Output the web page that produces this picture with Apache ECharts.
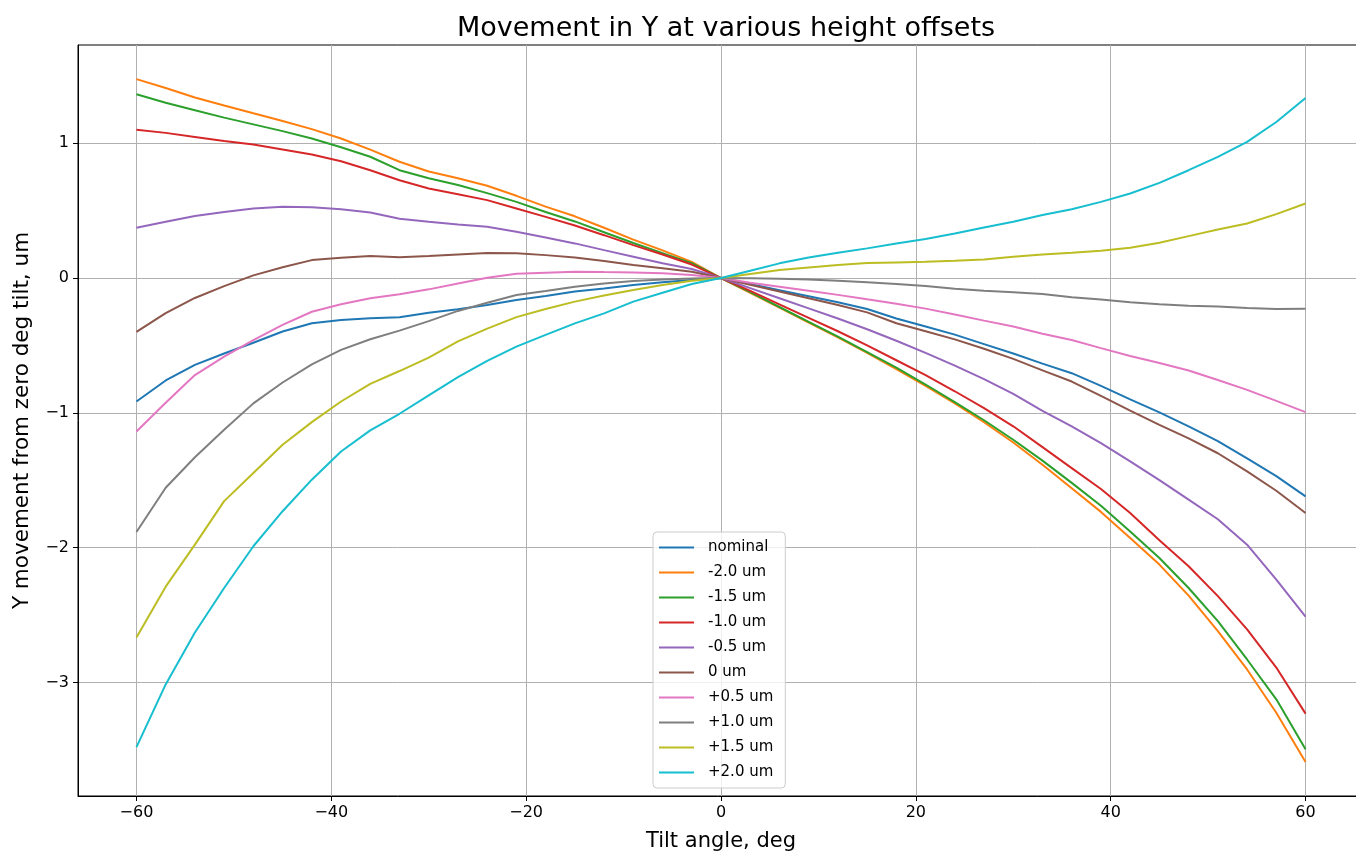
<!DOCTYPE html>
<html>
<head>
<meta charset="utf-8">
<script src="https://cdn.jsdelivr.net/npm/echarts@6/dist/echarts.min.js"></script>
<style>
html,body{margin:0;padding:0;background:#fff;overflow:hidden;}
#chart{width:1356px;height:852px;}
</style>
</head>
<body>
<div id="chart"></div>
<script>
const titleText = 'Movement in Y at various height offsets';
const xAxisName = 'Tilt angle, deg';
const yAxisName = 'Y movement from zero deg tilt, um';

const angles = [-60,-57,-54,-51,-48,-45,-42,-39,-36,-33,-30,-27,-24,-21,-18,-15,-12,-9,-6,-3,0,
  3,6,9,12,15,18,21,24,27,30,33,36,39,42,45,48,51,54,57,60];

const xTicks = [-60,-40,-20,0,20,40,60];
const yTicks = [-3,-2,-1,0,1];

const seriesNames = ['nominal','-2.0 um','-1.5 um','-1.0 um','-0.5 um','0 um','+0.5 um','+1.0 um','+1.5 um','+2.0 um'];
const seriesColors = ['#1f77b4','#ff7f0e','#2ca02c','#d62728','#9467bd','#8c564b','#e377c2','#7f7f7f','#bcbd22','#17becf'];

const nominal = [-0.916,-0.76,-0.644,-0.56,-0.48,-0.397,-0.336,-0.311,-0.299,-0.291,-0.257,-0.232,-0.2,-0.163,-0.133,-0.1,-0.077,-0.052,-0.032,-0.015,0,
  -0.045,-0.09,-0.135,-0.18,-0.23,-0.3,-0.36,-0.42,-0.49,-0.56,-0.635,-0.706,-0.8,-0.9,-0.997,-1.1,-1.21,-1.338,-1.47,-1.62];
const m20 = [1.476,1.41,1.34,1.28,1.222,1.165,1.105,1.035,0.953,0.863,0.79,0.74,0.685,0.61,0.53,0.458,0.373,0.285,0.205,0.12,0,
  -0.11,-0.22,-0.33,-0.44,-0.555,-0.675,-0.8,-0.93,-1.07,-1.22,-1.385,-1.56,-1.735,-1.928,-2.126,-2.356,-2.62,-2.904,-3.225,-3.59];
const m15 = [1.363,1.3,1.245,1.19,1.14,1.09,1.035,0.97,0.9,0.8,0.74,0.69,0.63,0.565,0.49,0.42,0.34,0.26,0.185,0.11,0,
  -0.105,-0.215,-0.325,-0.435,-0.55,-0.665,-0.79,-0.92,-1.055,-1.2,-1.355,-1.52,-1.69,-1.88,-2.077,-2.3,-2.546,-2.83,-3.126,-3.496];
const m10 = [1.1,1.077,1.047,1.017,0.99,0.953,0.916,0.867,0.8,0.726,0.664,0.622,0.578,0.516,0.454,0.39,0.318,0.244,0.175,0.1,0,
  -0.095,-0.195,-0.295,-0.395,-0.5,-0.61,-0.72,-0.84,-0.965,-1.1,-1.255,-1.41,-1.565,-1.743,-1.945,-2.138,-2.36,-2.607,-2.89,-3.232];
const m05 = [0.373,0.417,0.46,0.49,0.516,0.528,0.526,0.51,0.486,0.44,0.417,0.398,0.38,0.343,0.3,0.257,0.207,0.158,0.109,0.067,0,
  -0.075,-0.15,-0.225,-0.3,-0.38,-0.465,-0.555,-0.65,-0.75,-0.86,-0.985,-1.1,-1.225,-1.36,-1.5,-1.644,-1.79,-1.978,-2.237,-2.513];
const z00 = [-0.4,-0.26,-0.148,-0.06,0.02,0.08,0.133,0.15,0.163,0.155,0.163,0.175,0.185,0.183,0.17,0.153,0.126,0.096,0.072,0.047,0,
  -0.05,-0.1,-0.15,-0.2,-0.255,-0.335,-0.395,-0.455,-0.525,-0.6,-0.685,-0.768,-0.874,-0.983,-1.089,-1.19,-1.3,-1.435,-1.578,-1.743];
const p05 = [-1.138,-0.925,-0.72,-0.583,-0.46,-0.348,-0.25,-0.195,-0.15,-0.12,-0.084,-0.04,0.002,0.032,0.04,0.047,0.044,0.042,0.035,0.022,0,
  -0.035,-0.065,-0.095,-0.125,-0.158,-0.19,-0.227,-0.27,-0.316,-0.36,-0.413,-0.46,-0.52,-0.578,-0.63,-0.686,-0.756,-0.83,-0.911,-0.995];
const p10 = [-1.884,-1.556,-1.33,-1.126,-0.93,-0.775,-0.64,-0.533,-0.454,-0.39,-0.32,-0.244,-0.183,-0.126,-0.096,-0.064,-0.04,-0.022,-0.01,-0.003,0,
  -0.002,-0.005,-0.01,-0.02,-0.032,-0.044,-0.059,-0.079,-0.094,-0.106,-0.119,-0.143,-0.16,-0.18,-0.195,-0.205,-0.212,-0.222,-0.23,-0.227];
const p15 = [-2.667,-2.29,-1.978,-1.655,-1.447,-1.237,-1.069,-0.916,-0.785,-0.69,-0.59,-0.47,-0.375,-0.29,-0.23,-0.175,-0.13,-0.089,-0.052,-0.02,0,
  0.03,0.059,0.079,0.096,0.111,0.116,0.121,0.128,0.138,0.158,0.175,0.188,0.203,0.225,0.262,0.311,0.36,0.405,0.474,0.553];
const p20 = [-3.48,-3.015,-2.63,-2.3,-1.99,-1.73,-1.496,-1.287,-1.13,-1.007,-0.87,-0.735,-0.615,-0.509,-0.422,-0.336,-0.262,-0.175,-0.109,-0.044,0,
  0.054,0.109,0.153,0.188,0.22,0.257,0.289,0.331,0.375,0.417,0.467,0.511,0.565,0.627,0.706,0.8,0.899,1.01,1.158,1.336];

const seriesValues = [nominal,m20,m15,m10,m05,z00,p05,p10,p15,p20];

const FONT = 'DejaVu Sans';
const fmt = v => (v < 0 ? '\u2212' + Math.abs(v) : String(v));

const chart = echarts.init(document.getElementById('chart'), null, {renderer: 'canvas'});
chart.setOption({
  animation: false,
  backgroundColor: '#ffffff',
  title: {
    text: titleText,
    left: 721,
    textAlign: 'center',
    top: 10,
    textStyle: {fontFamily: FONT, fontSize: 27, fontWeight: 'normal', color: '#000'}
  },
  grid: {
    left: 78, top: 45, width: 1286, height: 751,
    outerBoundsMode: 'none',
    containLabel: false,
    show: true, borderColor: '#000', borderWidth: 1, backgroundColor: 'transparent'
  },
  legend: {
    orient: 'vertical',
    left: 653,
    top: 532,
    data: seriesNames,
    icon: 'rect',
    itemWidth: 35,
    itemHeight: 2,
    itemGap: 8,
    padding: [7, 12, 7, 6],
    backgroundColor: 'rgba(255,255,255,0.8)',
    borderColor: '#cccccc',
    borderWidth: 1,
    borderRadius: 4,
    textStyle: {fontFamily: FONT, fontSize: 15, color: '#000', lineHeight: 17, padding: [0, 0, 0, 9]}
  },
  xAxis: {
    type: 'value',
    min: -66,
    max: 66,
    name: xAxisName,
    nameLocation: 'middle',
    nameGap: 35,
    nameTextStyle: {fontFamily: FONT, fontSize: 21, color: '#000'},
    axisLine: {show: true, onZero: false, lineStyle: {color: '#000', width: 1}},
    axisTick: {show: true, length: 5, lineStyle: {color: '#000', width: 1}, customValues: xTicks},
    axisLabel: {fontFamily: FONT, fontSize: 16, color: '#000', margin: 9, formatter: fmt, customValues: xTicks},
    splitLine: {show: true, lineStyle: {color: '#b0b0b0', width: 1}}
  },
  yAxis: {
    type: 'value',
    min: -3.843,
    max: 1.729,
    name: yAxisName,
    nameLocation: 'middle',
    nameGap: 45,
    nameRotate: 90,
    nameTextStyle: {fontFamily: FONT, fontSize: 21.5, color: '#000'},
    axisLine: {show: true, onZero: false, lineStyle: {color: '#000', width: 1}},
    axisTick: {show: true, length: 5, lineStyle: {color: '#000', width: 1}, customValues: yTicks},
    axisLabel: {fontFamily: FONT, fontSize: 16, color: '#000', margin: 9, formatter: fmt, customValues: yTicks},
    splitLine: {show: true, lineStyle: {color: '#b0b0b0', width: 1}}
  },
  series: seriesNames.map((name, i) => ({
    name: name,
    type: 'line',
    data: angles.map((a, j) => [a, seriesValues[i][j]]),
    showSymbol: false,
    symbol: 'none',
    color: seriesColors[i],
    lineStyle: {color: seriesColors[i], width: 2},
    emphasis: {disabled: true}
  }))
});
</script>
</body>
</html>
